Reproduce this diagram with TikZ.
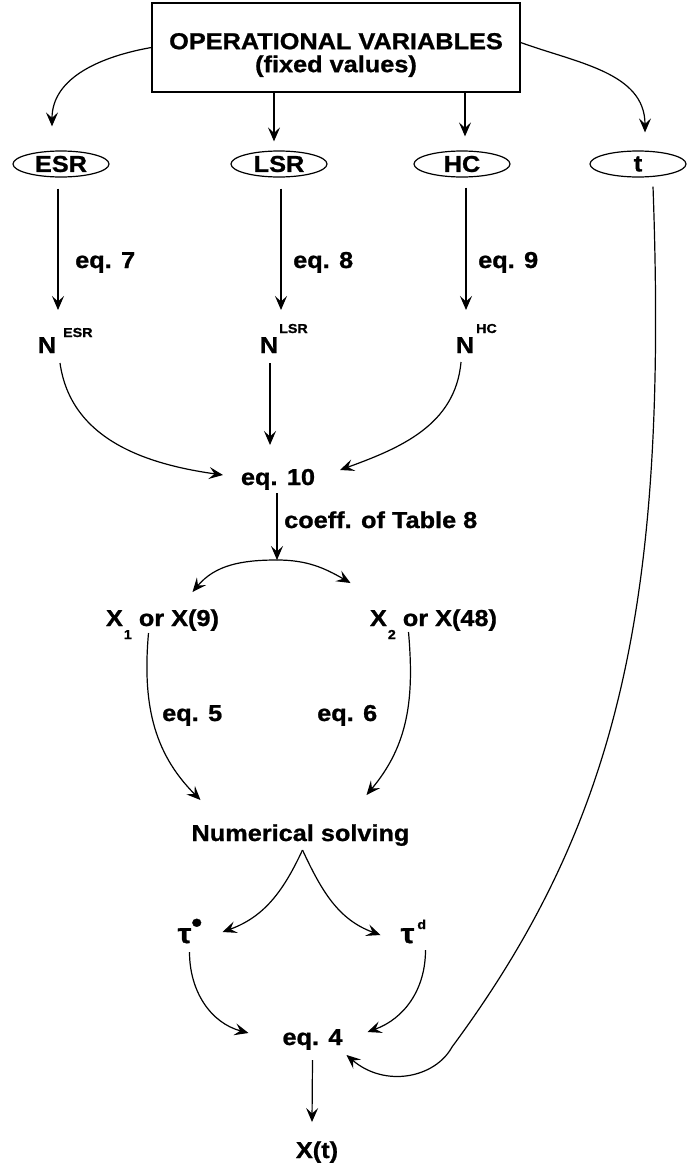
\documentclass[tikz,border=0pt]{standalone}
\usepackage{fontspec}
\newfontfamily\diagfont{Liberation Sans Bold}[FakeStretch=1.1,FakeBold=1]
\usetikzlibrary{arrows.meta,shapes.geometric}
\newcommand\dsupf{\fontsize{13}{13}\selectfont}
\newcommand\dtau{{\fontsize{28}{28}\selectfont τ}}
\begin{document}
\begin{tikzpicture}[x=1pt,y=-1pt,
  every node/.style={font=\diagfont\fontsize{23}{23}\selectfont, inner sep=0pt},
  lab/.style={anchor=base},
  labw/.style={anchor=base west},
  oval/.style={draw, ellipse, line width=1.2pt, minimum width=96pt, minimum height=26pt},
  arr/.style={-{Stealth[length=14pt,width=12pt,inset=5.5pt]}, line width=1.2pt},
]
\useasboundingbox (0,0) rectangle (688,1167);
% top box
\node[draw, line width=1.3pt, minimum width=368pt, minimum height=89pt] (ov) at (336,47.5) {};
\node[align=center] (ovt) at (336,55) {OPERATIONAL VARIABLES\\(fixed values)};
% ellipses
\node[oval] (esr) at (61,164) {ESR};
\node[oval] (lsr) at (279,164) {LSR};
\node[oval] (hc) at (462,164) {HC};
\node[oval] (tt) at (638,164) {t};
% labels
\node[labw] (e7) at (75,268) {eq. 7};
\node[labw] (e8) at (293,268) {eq. 8};
\node[labw] (e9) at (478,268) {eq. 9};
\node[lab] (nesr) at (47,353) {N\rlap{\hspace{7pt}\raisebox{16pt}{\dsupf ESR}}};
\node[lab] (nlsr) at (269,353) {N\rlap{\hspace{1pt}\raisebox{20pt}{\dsupf LSR}}};
\node[lab] (nhc) at (465,353) {N\rlap{\hspace{2pt}\raisebox{20pt}{\dsupf HC}}};
\node[lab] (eq10) at (278,485) {eq. 10};
\node[labw] (coef) at (284,528) {coeff. of Table 8};
\coordinate (split) at (277,560);
\node[lab] (x1) at (162.5,626) {X\hspace{1pt}\raisebox{-13pt}{\dsupf 1} or X(9)};
\node[lab] (x2) at (433.5,626) {X\hspace{1pt}\raisebox{-13pt}{\dsupf 2} or X(48)};
\node[labw] (e5) at (162,721) {eq. 5};
\node[labw] (e6) at (317,721) {eq. 6};
\node[lab] (num) at (300.5,841) {Numerical solving};
\node[lab] (taua) at (184.5,943) {\dtau\rlap{\hspace{0pt}\raisebox{11pt}{\fontsize{28}{28}\selectfont •}}};
\node[lab] (taud) at (407.5,943) {\dtau\rlap{\hspace{3pt}\raisebox{14pt}{\dsupf d}}};
\node[lab] (eq4) at (312.5,1045) {eq. 4};
\node[lab] (xt) at (317,1158) {X(t)};
% connectors from the box
\draw[arr] (ov.west) to[out=190,in=90] ([xshift=-9pt,yshift=24pt]esr.north);
\draw[arr] ([xshift=-62pt]ov.south) -- ([xshift=-5pt,yshift=9pt]lsr.north);
\draw[arr] ([xshift=129pt]ov.south) -- ([xshift=3pt,yshift=14pt]hc.north);
\draw[arr] ([yshift=5pt]ov.east) to[out=-20,in=90] ([xshift=7pt,yshift=18pt]tt.north);
% ellipses to N
\draw[arr] ([xshift=-3pt,yshift=-11pt]esr.south) -- ([xshift=11pt,yshift=43pt]nesr.base);
\draw[arr] ([xshift=2pt,yshift=-11pt]lsr.south) -- ([xshift=12pt,yshift=43pt]nlsr.base);
\draw[arr] ([xshift=4pt,yshift=-10pt]hc.south) -- ([xshift=1pt,yshift=43pt]nhc.base);
% N to eq. 10
\draw[arr] ([xshift=13pt,yshift=-10pt]nesr.base) to[out=-82,in=172] ([xshift=-55pt,yshift=10pt]eq10.base);
\draw[arr] ([xshift=1pt,yshift=-10pt]nlsr.base) -- ([xshift=-8pt,yshift=40pt]eq10.base);
\draw[arr] ([xshift=-4pt,yshift=-9pt]nhc.base) to[out=-95,in=20] ([xshift=62pt,yshift=15pt]eq10.base);
% eq. 10 split
\draw[arr] ([xshift=-1pt,yshift=-8pt]eq10.base) -- (split);
\draw[arr] (split) to[out=180,in=50] ([xshift=30pt,yshift=34pt]x1.base);
\draw[arr] (split) to[out=0,in=150] ([xshift=-83pt,yshift=43pt]x2.base);
% X to numerical solving
\draw[arr] ([xshift=-14pt,yshift=-7pt]x1.base) to[out=-95,in=135] ([xshift=-100pt,yshift=41pt]num.base);
\draw[arr] ([xshift=-25pt,yshift=-6pt]x2.base) to[out=-85,in=50] ([xshift=66pt,yshift=46pt]num.base);
% numerical solving to tau
\draw[arr] ([xshift=2pt,yshift=-9pt]num.base) to[out=-115,in=20] ([xshift=38pt,yshift=11pt]taua.base);
\draw[arr] ([xshift=2pt,yshift=-9pt]num.base) to[out=-65,in=160] ([xshift=-27pt,yshift=8pt]taud.base);
% tau to eq. 4
\draw[arr] ([xshift=5pt,yshift=-9pt]taua.base) to[out=-90,in=165] ([xshift=-64pt,yshift=12pt]eq4.base);
\draw[arr] ([xshift=18pt,yshift=-7pt]taud.base) to[out=-90,in=20] ([xshift=55pt,yshift=13pt]eq4.base);
% eq. 4 to X(t)
\draw[arr] ([yshift=-15pt]eq4.base) -- ([xshift=-5pt,yshift=36pt]xt.base);
% t to eq. 4
\draw[arr] ([xshift=15pt,yshift=-9pt]tt.south) .. controls (668,600) and (620,820) .. (452,1047)
  .. controls (435,1078) and (385,1088) .. ([xshift=34pt,yshift=-10pt]eq4.base);
\end{tikzpicture}
\end{document}
